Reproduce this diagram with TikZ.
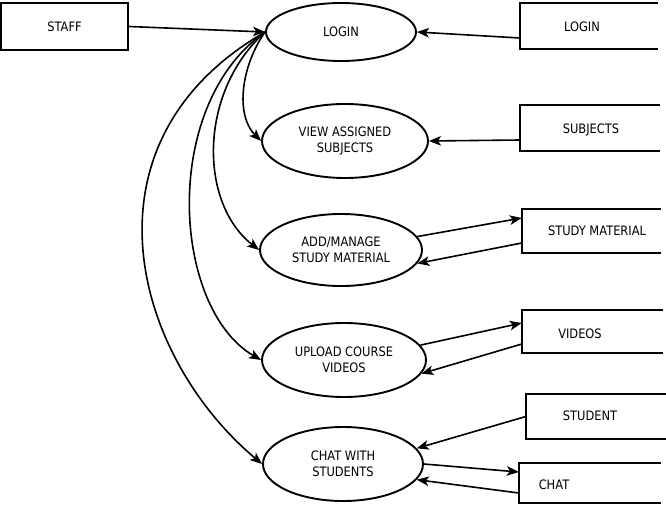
\documentclass[tikz,border=0pt]{standalone}
\usepackage{fontspec}
\setmainfont{DejaVu Sans}[FakeStretch=0.88]
\usetikzlibrary{shapes.geometric,arrows.meta}
\begin{document}
\begin{tikzpicture}[x=1pt,y=1pt,
  every node/.style={font=\fontsize{13}{16}\selectfont, inner sep=0pt},
  proc/.style={draw, ellipse, line width=1.9pt, align=center},
  ent/.style={draw, rectangle, line width=1.9pt},
  store/.style={rectangle},
  flow/.style={line width=1.6pt, -{Stealth[length=12pt,width=9.5pt,inset=3pt]}},
  lbl/.style={}]
\useasboundingbox (0,0) rectangle (666,-505);
% external entity
\node[ent, minimum width=127pt, minimum height=47pt] (staff) at (64.5,-26.5) {STAFF};
% processes
\node[proc, minimum width=150pt, minimum height=58pt] (p1) at (341,-32) {LOGIN};
\node[proc, minimum width=166pt, minimum height=74pt] (p2) at (345,-141) {VIEW ASSIGNED\\SUBJECTS};
\node[proc, minimum width=162pt, minimum height=72pt] (p3) at (341,-250) {ADD/MANAGE\\STUDY MATERIAL};
\node[proc, minimum width=164pt, minimum height=74pt] (p4) at (344,-360) {UPLOAD COURSE\\VIDEOS};
\node[proc, minimum width=160pt, minimum height=74pt] (p5) at (343,-464) {CHAT WITH\\STUDENTS};
% data stores (open on the right)
\node[store, minimum width=138pt, minimum height=46pt] (d1) at (589,-26) {};
\node[store, minimum width=140pt, minimum height=46pt] (d2) at (590,-128) {};
\node[store, minimum width=139pt, minimum height=44pt] (d3) at (591.5,-231) {};
\node[store, minimum width=141pt, minimum height=43pt] (d4) at (592.5,-331.5) {};
\node[store, minimum width=140pt, minimum height=45pt] (d5) at (596,-416.5) {};
\node[store, minimum width=142pt, minimum height=40pt] (d6) at (590,-483) {};
\foreach \d in {d1,d2,d3,d4,d5,d6}
  \draw[line width=1.9pt] (\d.north east) -- (\d.north west) -- (\d.south west) -- (\d.south east);
\node[lbl] (t1) at (582,-27) {LOGIN};
\node[lbl] (t2) at (591,-130) {SUBJECTS};
\node[lbl] (t3) at (597,-231) {STUDY MATERIAL};
\node[lbl] (t4) at (580,-334) {VIDEOS};
\node[lbl] (t5) at (590,-416) {STUDENT};
\node[lbl] (t6) at (554,-485) {CHAT};
% flows
\draw[flow] (staff.east) -- (p1.west);
\draw[flow] ([yshift=-12pt]d1.west) -- (p1.east);
\draw[flow] ([yshift=-12pt]d2.west) -- (p2.east);
\draw[flow] (p3.10) -- ([yshift=13pt]d3.west);
\draw[flow] ([yshift=-12pt]d3.west) -- (p3.-10);
\draw[flow] (p4.11) -- ([yshift=8.5pt]d4.west);
\draw[flow] ([yshift=-12.5pt]d4.west) -- (p4.-10);
\draw[flow] (d5.west) -- (p5.12);
\draw[flow] (p5.east) -- ([yshift=11pt]d6.west);
\draw[flow] ([yshift=-10pt]d6.west) -- (p5.-12);
% curved flows from LOGIN
\draw[flow] (p1.west) to[out=235, in=135, out looseness=1, in looseness=0.85] (p2.west);
\draw[flow] (p1.west) to[out=222, in=142, out looseness=1.05, in looseness=0.9] (p3.west);
\draw[flow] (p1.west) to[out=215, in=150, out looseness=1, in looseness=0.8] (p4.west);
\draw[flow] (p1.west) to[out=210, in=140, out looseness=1.3, in looseness=1] (p5.west);
\end{tikzpicture}
\end{document}
